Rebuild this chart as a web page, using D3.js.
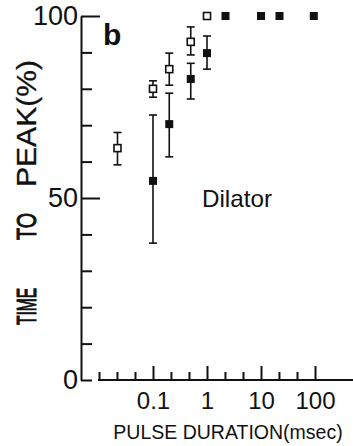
<!DOCTYPE html>
<html>
<head>
<meta charset="utf-8">
<script src="https://cdn.jsdelivr.net/npm/d3@7"></script>
<style>
  body { margin: 0; background: #fff; }
  text { font-family: "Liberation Sans", Arial, sans-serif; fill: #111; }
</style>
</head>
<body>
<script>
// open squares (one series) and filled squares (other series)
const openDur = [0.022, 0.1, 0.2, 0.5, 1];
const openMean = [63.7, 80, 85.4, 92.9, 100];
const openHi = [68, 82.2, 89.8, 97, null];
const openLo = [59.1, 77.7, 81, 89.3, null];

const filledDur = [0.1, 0.2, 0.5, 1, 2.2, 10, 22, 95];
const filledMean = [54.7, 70.3, 82.7, 89.8, 100, 100, 100, 100];
const filledHi = [72.8, 78.8, 87, 94.5, null, null, null, null];
const filledLo = [37.6, 61.3, 77.2, 85.4, null, null, null, null];

const xMajor = [0.1, 1, 10, 100];
const xLabels = ["0.1", "1", "10", "100"];
const xMinor = [0.01, 0.0215, 0.0464, 0.215, 0.464, 2.15, 4.64, 21.5, 46.4];
const yMajor = [50, 100];
const yMinor = [0, 10, 20, 30, 40, 60, 70, 80, 90];

const W = 353, H = 446;
const ink = "#111";

const svg = d3.select("body").append("svg")
    .attr("width", W)
    .attr("height", H);

const x = d3.scaleLog().domain([0.01, 100]).range([99, 315]);
const y = d3.scaleLinear().domain([0, 100]).range([380, 16]);

// y axis (ticks point inward, labels on the left)
const axX = 81;
svg.append("g")
    .attr("class", "yax")
    .attr("transform", "translate(" + axX + ",0)")
    .call(d3.axisLeft(y).tickValues(yMinor).tickSize(-11).tickSizeOuter(0)
        .tickPadding(3).tickFormat(d => d === 0 ? "0" : ""));
svg.append("g")
    .attr("class", "yax")
    .attr("transform", "translate(" + axX + ",0)")
    .call(d3.axisLeft(y).tickValues(yMajor).tickSize(-19).tickSizeOuter(0)
        .tickPadding(3).tickFormat(d => d))
    .call(g => g.select(".domain").remove());

// x axis
const axY = y(0);
svg.append("g")
    .attr("transform", "translate(0," + axY + ")")
    .call(d3.axisBottom(x).tickValues(xMinor).tickSize(-8).tickFormat(""))
    .call(g => g.select(".domain").remove());
svg.append("g")
    .attr("class", "xax")
    .attr("transform", "translate(0," + axY + ")")
    .call(d3.axisBottom(x).tickValues(xMajor).tickSize(-14).tickPadding(12)
        .tickFormat((d, i) => xLabels[i]))
    .call(g => g.select(".domain").remove());
svg.append("line")
    .attr("x1", x(0.01) - 1).attr("x2", W)
    .attr("y1", axY).attr("y2", axY);

svg.selectAll(".domain, .tick line, line")
    .attr("stroke", ink)
    .attr("stroke-width", 2);
svg.selectAll(".tick text")
    .attr("fill", ink)
    .style("font-family", "'Liberation Sans', Arial, sans-serif");
svg.selectAll(".xax .tick text").attr("font-size", 24);
svg.selectAll(".yax .tick text").attr("font-size", 27);

// error bars
function errBars(dur, hi, lo) {
  const rows = dur.map((d, i) => ({d, hi: hi[i], lo: lo[i]})).filter(r => r.hi != null);
  const g = svg.append("g").attr("stroke", ink).attr("stroke-width", 1.6);
  g.selectAll(".v").data(rows).enter().append("line")
      .attr("x1", r => x(r.d)).attr("x2", r => x(r.d))
      .attr("y1", r => y(r.hi)).attr("y2", r => y(r.lo));
  g.selectAll(".t").data(rows).enter().append("line")
      .attr("x1", r => x(r.d) - 4).attr("x2", r => x(r.d) + 4)
      .attr("y1", r => y(r.hi)).attr("y2", r => y(r.hi));
  g.selectAll(".b").data(rows).enter().append("line")
      .attr("x1", r => x(r.d) - 4).attr("x2", r => x(r.d) + 4)
      .attr("y1", r => y(r.lo)).attr("y2", r => y(r.lo));
}
errBars(openDur, openHi, openLo);
errBars(filledDur, filledHi, filledLo);

// markers
svg.append("g").selectAll("rect")
    .data(openDur.map((d, i) => ({d, v: openMean[i]})))
  .enter().append("rect")
    .attr("x", r => x(r.d) - 3.5)
    .attr("y", r => y(r.v) - 3.5)
    .attr("width", 7).attr("height", 7)
    .attr("fill", "#fff")
    .attr("stroke", ink)
    .attr("stroke-width", 1.6);

svg.append("g").selectAll("rect")
    .data(filledDur.map((d, i) => ({d, v: filledMean[i]})))
  .enter().append("rect")
    .attr("x", r => x(r.d) - 4)
    .attr("y", r => y(r.v) - 4)
    .attr("width", 8).attr("height", 8)
    .attr("fill", ink);

// texts
svg.append("text")
    .attr("x", 103).attr("y", 45)
    .attr("font-size", 30).attr("font-weight", "bold")
    .text("b");

svg.append("text")
    .attr("x", 202).attr("y", 207)
    .attr("font-size", 24)
    .attr("textLength", 70).attr("lengthAdjust", "spacingAndGlyphs")
    .text("Dilator");

svg.append("text")
    .attr("x", 228).attr("y", 439)
    .attr("text-anchor", "middle")
    .attr("font-size", 19.5)
    .text("PULSE DURATION(msec)");

// y title: three condensed pieces, rotated; squeeze each to its width
[["TIME", 325, 37], ["TO", 240, 27], ["PEAK(%)", 187, 127]].forEach(p => {
  const t = svg.append("text")
      .attr("font-size", 28)
      .text(p[0]);
  const natural = t.node().getComputedTextLength();
  const k = p[2] / natural;
  t.attr("transform", "translate(36," + p[1] + ") rotate(-90) scale(" + k + ",1)")
   .attr("stroke", ink)
   .attr("stroke-width", k < 0.8 ? 1 : 0.3);
});
</script>
</body>
</html>
